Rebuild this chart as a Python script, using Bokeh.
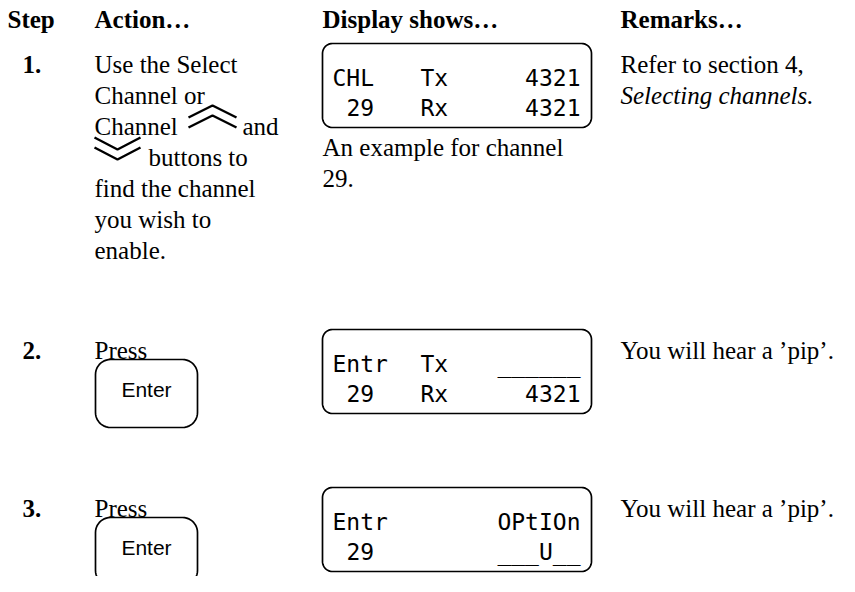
import numpy as np
from bokeh.plotting import figure
from bokeh.models import Range1d
from bokeh.core.properties import value
from bokeh.embed import file_html
from bokeh.resources import INLINE

# ---------------- content ----------------
headers = ["Step", "Action…", "Display shows…", "Remarks…"]
step_numbers = ["1.", "2.", "3."]
step1_lines = ["Use the Select", "Channel or", "Channel", "buttons to",
               "find the channel", "you wish to", "enable."]
step1_after_chevron = "and"
press_word = "Press"
button_label = "Enter"
display_rows = [
    [["CHL", "Tx", "4321"], ["29", "Rx", "4321"]],
    [["Entr", "Tx", "______"], ["29", "Rx", "4321"]],
    [["Entr", "", "OPtIOn"], ["29", "", "___U__"]],
]
display_caption = ["An example for channel", "29."]
remarks = [["Refer to section 4,", "Selecting channels."],
           ["You will hear a ’pip’."],
           ["You will hear a ’pip’."]]
remark_styles = [["normal", "italic"], ["normal"], ["normal"]]

# ---------------- layout ----------------
W, H = 839, 576
p = figure(width=W, height=H, x_range=Range1d(8, 8 + W), y_range=Range1d(8 + H, 8),
           output_backend="svg", toolbar_location=None, min_border=0,
           outline_line_color=None, background_fill_color="white",
           border_fill_color="white")
p.xaxis.visible = False
p.yaxis.visible = False
p.grid.visible = False

SERIF = value("Liberation Serif")
SANS = value("Liberation Sans")
MONO = value("DejaVu Sans Mono")
FS = "25px"
DFS = "23px"
LS = 31

COL_STEP, COL_NUM, COL_ACT, COL_DISP, COL_REM = 15, 30, 102, 330, 628
HEADER_BASE = 27
step_base = [72, 358, 516]


def txt(x, y, s, font=SERIF, size=FS, style="normal", align="left"):
    p.text(x=[x], y=[y], text=[s], text_font=font, text_font_size=size,
           text_font_style=style, text_align=align, text_baseline="alphabetic",
           text_color="black")


def rrect(x0, y0, x1, y1, r, lw=1.7):
    xs, ys = [], []
    for cx, cy, a0 in [(x0 + r, y0 + r, 180), (x1 - r, y0 + r, 270),
                       (x1 - r, y1 - r, 0), (x0 + r, y1 - r, 90)]:
        a = np.radians(np.linspace(a0, a0 + 90, 12))
        xs.extend(cx + r * np.cos(a))
        ys.extend(cy + r * np.sin(a))
    xs.append(xs[0]); ys.append(ys[0])
    p.line(xs, ys, line_color="black", line_width=lw)


# headers
for hx, h in zip([COL_STEP, COL_ACT, COL_DISP, COL_REM], headers):
    txt(hx, HEADER_BASE, h, style="bold")

# step numbers
for b, n in zip(step_base, step_numbers):
    txt(COL_NUM, b, n, style="bold")

# step 1 action text
b0 = step_base[0]
for i, line in enumerate(step1_lines):
    b = b0 + i * LS
    txt(COL_ACT + 54 if i == 3 else COL_ACT, b, line)
b3 = b0 + 2 * LS
txt(250, b3, step1_after_chevron)
# up chevron (double)
p.multi_line(xs=[[196, 220, 244], [196, 220, 244]],
             ys=[[b3 - 9, b3 - 21, b3 - 9], [b3 + 1, b3 - 11, b3 + 1]],
             line_color="black", line_width=2.4)
# down chevron (double)
b4 = b0 + 3 * LS
p.multi_line(xs=[[102, 125, 148], [102, 125, 148]],
             ys=[[b4 - 20, b4 - 8, b4 - 20], [b4 - 10, b4 + 2, b4 - 10]],
             line_color="black", line_width=2.4)

# steps 2, 3: Press + Enter button
for b in step_base[1:]:
    txt(COL_ACT, b, press_word)
    top = b + 9
    rrect(103, top, 205, top + 68, 15)
    txt(154, top + 30, button_label, font=SANS, size="21px", align="center")

# displays
for k, b in enumerate(step_base):
    top = b - 21
    rrect(330, top, 599, top + 84, 10)
    for r, row in enumerate(display_rows[k]):
        y = top + 34 + r * 30
        a, m, c = row
        txt(340 if len(a) > 2 else 354, y, a, font=MONO, size=DFS)
        if m:
            txt(428, y, m, font=MONO, size=DFS)
        txt(588, y, c, font=MONO, size=DFS, align="right")
    if k == 0:
        for i, line in enumerate(display_caption):
            txt(COL_DISP, top + 84 + 20 + i * LS, line)

# remarks
for b, lines, styles in zip(step_base, remarks, remark_styles):
    for i, (line, st) in enumerate(zip(lines, styles)):
        txt(COL_REM, b + i * LS, line, style=st)

open("out.html", "w").write(file_html(p, INLINE))
